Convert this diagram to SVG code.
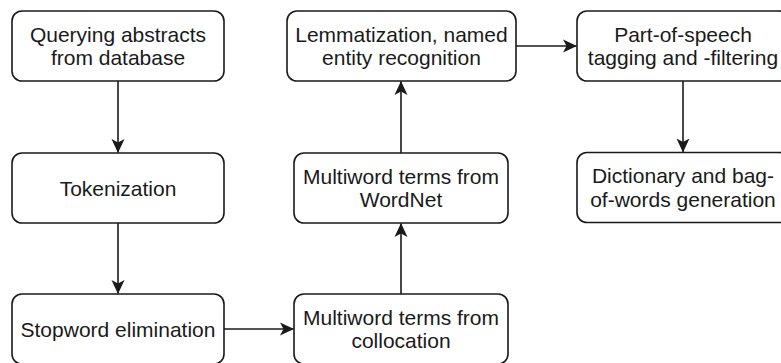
<svg xmlns="http://www.w3.org/2000/svg" width="781" height="363" viewBox="0 0 781 363">
<style>
.box{fill:#ffffff;stroke:#1a1a1a;stroke-width:1.6}
.lbl{font-family:"Liberation Sans",Arial,sans-serif;font-size:21px;fill:#1a1a1a;text-anchor:middle}
.edge{stroke:#1a1a1a;stroke-width:1.6;fill:none;marker-end:url(#arr)}
</style>
<defs>
<marker id="arr" markerUnits="userSpaceOnUse" viewBox="0 0 14 14" markerWidth="14" markerHeight="14" refX="13.5" refY="7" orient="auto">
<path d="M0,0.5 L14,7 L0,13.5 L3.5,7 Z" fill="#1a1a1a"/>
</marker>
</defs>
<g id="connectors">
<line class="edge" x1="118" y1="81" x2="118" y2="152.5"/>
<line class="edge" x1="118" y1="223" x2="118" y2="293.5"/>
<line class="edge" x1="224" y1="329" x2="293.5" y2="329"/>
<line class="edge" x1="401" y1="294" x2="401" y2="223.5"/>
<line class="edge" x1="401" y1="153" x2="401" y2="81.5"/>
<line class="edge" x1="516" y1="46" x2="576.5" y2="46"/>
<line class="edge" x1="683" y1="81" x2="683" y2="152"/>
</g>
<g id="n1">
<rect class="box" x="12" y="11" width="212" height="70" rx="10" ry="10"/>
<text class="lbl" x="118" y="41.8">Querying abstracts</text>
<text class="lbl" x="118" y="65.3">from database</text>
</g>
<g id="n2">
<rect class="box" x="12" y="153" width="212" height="70" rx="10" ry="10"/>
<text class="lbl" x="118" y="195.5">Tokenization</text>
</g>
<g id="n3">
<rect class="box" x="12" y="294" width="212" height="70" rx="10" ry="10"/>
<text class="lbl" x="118" y="336.5">Stopword elimination</text>
</g>
<g id="n4">
<rect class="box" x="294" y="294" width="214" height="70" rx="10" ry="10"/>
<text class="lbl" x="401" y="324.8">Multiword terms from</text>
<text class="lbl" x="401" y="348.3">collocation</text>
</g>
<g id="n5">
<rect class="box" x="294" y="153" width="214" height="70" rx="10" ry="10"/>
<text class="lbl" x="401" y="183.8">Multiword terms from</text>
<text class="lbl" x="401" y="207.3">WordNet</text>
</g>
<g id="n6">
<rect class="box" x="287" y="11" width="229" height="70" rx="10" ry="10"/>
<text class="lbl" x="401.5" y="41.8">Lemmatization, named</text>
<text class="lbl" x="401.5" y="65.3">entity recognition</text>
</g>
<g id="n7">
<rect class="box" x="577" y="11" width="212" height="70" rx="10" ry="10"/>
<text class="lbl" x="683" y="41.8">Part-of-speech</text>
<text class="lbl" x="683" y="65.3">tagging and -filtering</text>
</g>
<g id="n8">
<rect class="box" x="577" y="152.5" width="212" height="70" rx="10" ry="10"/>
<text class="lbl" x="683" y="183.3">Dictionary and bag-</text>
<text class="lbl" x="683" y="206.8">of-words generation</text>
</g>
</svg>
